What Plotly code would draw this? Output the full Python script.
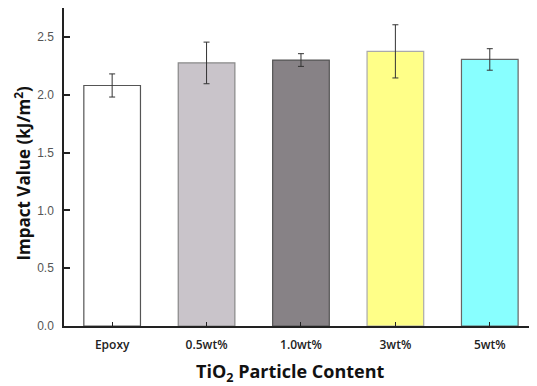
import plotly.graph_objects as go

categories = ["Epoxy", "0.5wt%", "1.0wt%", "3wt%", "5wt%"]
values = [2.08, 2.275, 2.30, 2.375, 2.305]
errors = [0.10, 0.18, 0.055, 0.23, 0.093]
colors = ["#ffffff", "#c9c4ca", "#878286", "#ffff88", "#88ffff"]
outlines = ["#555555", "#888888", "#555555", "#aaaaaa", "#666666"]
y_ticks = [0.0, 0.5, 1.0, 1.5, 2.0, 2.5]

fig = go.Figure()
fig.add_trace(go.Bar(
    x=list(range(len(categories))),
    y=values,
    width=0.6,
    marker=dict(color=colors, line=dict(color=outlines, width=1.2)),
    error_y=dict(type="data", array=errors, visible=True, color="#333333",
                 thickness=1, width=3),
    showlegend=False,
))

fig.update_layout(
    width=529, height=378,
    margin=dict(l=56, r=0, t=0, b=60),
    paper_bgcolor="white", plot_bgcolor="white",
    bargap=0.4,
    xaxis=dict(
        range=[-0.51, 4.5],
        tickmode="array", tickvals=list(range(len(categories))), ticktext=categories,
        ticks="inside", ticklen=4, tickcolor="#222222", tickwidth=1,
        showline=True, linecolor="#222222", linewidth=1.5,
        showgrid=False, zeroline=False,
        ticklabelstandoff=7,
        tickfont=dict(family="Open Sans", size=12, color="#222222", weight=600),
    ),
    yaxis=dict(
        range=[0, 2.75],
        tickmode="array", tickvals=y_ticks, ticktext=[f"{v:.1f}" for v in y_ticks],
        ticks="inside", ticklen=6, tickcolor="#222222", tickwidth=1.5,
        showline=True, linecolor="#222222", linewidth=1.5,
        showgrid=False, zeroline=False,
        ticklabelstandoff=6,
        tickfont=dict(family="Liberation Sans", size=12, color="#555555"),
    ),
    annotations=[
        dict(text="Impact Value (kJ/m<sup>2</sup>)", xref="paper", yref="paper",
             x=-0.0877, y=0.478, xanchor="center", yanchor="middle",
             textangle=-90, showarrow=False,
             font=dict(family="Open Sans", size=17, color="#111111", weight="bold")),
        dict(text="TiO<sub>2</sub> Particle Content", xref="paper", yref="paper",
             x=0.478, y=-0.147, xanchor="center", yanchor="middle", showarrow=False,
             font=dict(family="Open Sans", size=18, color="#111111", weight="bold")),
    ],
)

fig.write_html("out.html")
